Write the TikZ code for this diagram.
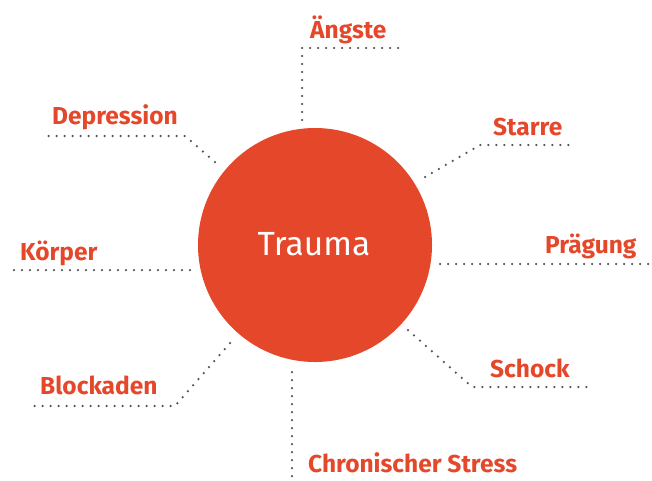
\documentclass[tikz,border=0pt]{standalone}
\usepackage{fontspec}
\setmainfont{Fira Sans}
\usepackage{tikz}
\usetikzlibrary{positioning, calc}

\definecolor{traumared}{HTML}{E5472A}
\definecolor{dotgray}{HTML}{555555}

\tikzset{
    dots/.style={dotgray, line width=2.5pt, line cap=round, dash pattern=on 0pt off 8pt},
    lbl/.style={anchor=base west, inner sep=0pt, text=traumared, font=\bfseries\fontsize{24.5}{26}\selectfont}
}

\begin{document}
\begin{tikzpicture}[x=1pt, y=-1pt]
\useasboundingbox (0,0) rectangle (652,480);

% Central circle
\node[circle, fill=traumared, minimum size=234pt, inner sep=0pt] (trauma) at (315,245) {};
\node[text=white, font=\fontsize{33.5}{36}\selectfont, anchor=base] (tlabel) at (314,255) {Trauma};

% Line ends
\coordinate (a1) at (302,120); \coordinate (a2) at (302,48);  \coordinate (a3) at (405,48);
\coordinate (d1) at (215,162); \coordinate (d2) at (185,136); \coordinate (d3) at (45,136);
\coordinate (s1) at (425,177); \coordinate (s2) at (480,145); \coordinate (s3) at (575,145);
\coordinate (p1) at (440,264); \coordinate (p2) at (650,264);
\coordinate (k1) at (190,270); \coordinate (k2) at (12,270);
\coordinate (b1) at (230,343); \coordinate (b2) at (175,406); \coordinate (b3) at (30,406);
\coordinate (h1) at (408,330); \coordinate (h2) at (472,387); \coordinate (h3) at (587,387);
\coordinate (c1) at (292,372); \coordinate (c2) at (292,478);

% Dotted connectors
\draw[dots] (a1) -- (a2) -- (a3);
\draw[dots] (d1) -- (d2) -- (d3);
\draw[dots] (s1) -- (s2) -- (s3);
\draw[dots] (p1) -- (p2);
\draw[dots] (k1) -- (k2);
\draw[dots] (b1) -- (b2) -- (b3);
\draw[dots] (h1) -- (h2) -- (h3);
\draw[dots] (c1) -- (c2);

% Labels
\node[lbl] (angst) at (310,38)  {Ängste};
\node[lbl] (depr)  at (52,124)  {Depression};
\node[lbl] (starr) at (493,135) {Starre};
\node[lbl] (praeg) at (545,253) {Prägung};
\node[lbl] (koerp) at (20,260)  {Körper};
\node[lbl] (block) at (40,394)  {Blockaden};
\node[lbl] (schok) at (490,377) {Schock};
\node[lbl] (chron) at (308,472) {Chronischer Stress};
\end{tikzpicture}
\end{document}
